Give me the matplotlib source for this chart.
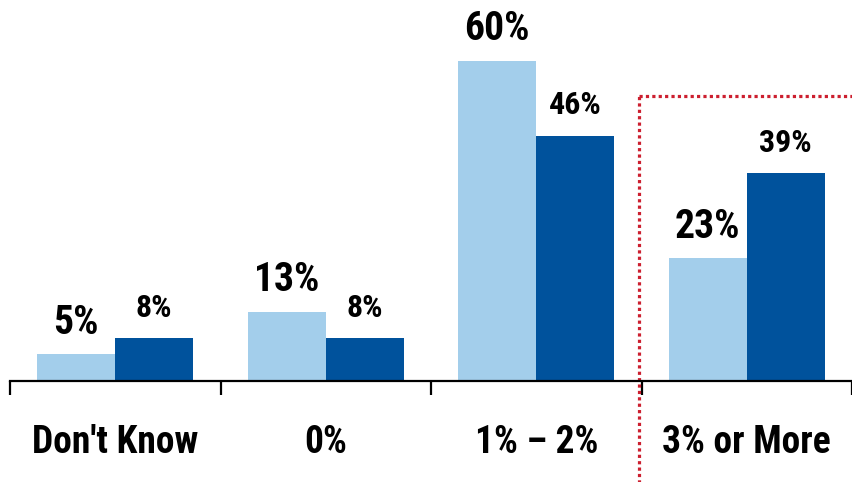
import matplotlib
matplotlib.use("Agg")
import matplotlib.pyplot as plt
import numpy as np

# Chart data
categories = ["Don't Know", "0%", "1% \u2013 2%", "3% or More"]
series_light = [5, 13, 60, 23]
series_dark = [8, 8, 46, 39]

LIGHT = "#A3CEEB"
DARK = "#00529C"
RED = "#CC1F2F"

plt.rcParams['font.family'] = ['Roboto Condensed', 'DejaVu Sans']
plt.rcParams['font.weight'] = 'bold'

fig = plt.figure(figsize=(8.52, 4.82), dpi=100)
ax = fig.add_axes([10 / 852, 101 / 482, 842 / 852, 381 / 482])

x = np.arange(len(categories))
w = 0.37
b1 = ax.bar(x - w / 2, series_light, w, color=LIGHT)
b2 = ax.bar(x + w / 2, series_dark, w, color=DARK)

# value labels
for rect, v in zip(b1, series_light):
    ax.annotate(f"{v}%", (rect.get_x() + rect.get_width() / 2, rect.get_height()),
                xytext=(0, 15), textcoords="offset points", ha="center",
                va="baseline", fontsize=28.5, fontweight="bold")
for rect, v in zip(b2, series_dark):
    ax.annotate(f"{v}%", (rect.get_x() + rect.get_width() / 2, rect.get_height()),
                xytext=(0, 15.5), textcoords="offset points", ha="center",
                va="baseline", fontsize=23, fontweight="bold")

ax.set_xlim(-0.5, len(categories) - 0.5)
ax.set_ylim(0, 71.5)

# axis styling
for s in ["top", "right", "left"]:
    ax.spines[s].set_visible(False)
ax.spines["bottom"].set_linewidth(1.6)
ax.set_yticks([])
ax.set_xticks(np.arange(len(categories) + 1) - 0.5)
ax.set_xticklabels([])
ax.tick_params(axis="x", direction="out", length=10, width=1.6)

# category labels
for xi, c in zip(x, categories):
    ax.text(xi, -0.189, c, transform=ax.get_xaxis_transform(), ha="center",
            va="baseline", fontsize=27, fontweight="bold")

# red dotted highlight around the last group
hx = 2.49
htop = 53.5
ax.plot([hx, hx], [-20, htop], color=RED, lw=2.3, ls=(0, (1, 1)), clip_on=False)
ax.plot([hx, 3.52], [htop, htop], color=RED, lw=2.3, ls=(0, (1, 1)), clip_on=False)

fig.savefig("out.png", dpi=100)
